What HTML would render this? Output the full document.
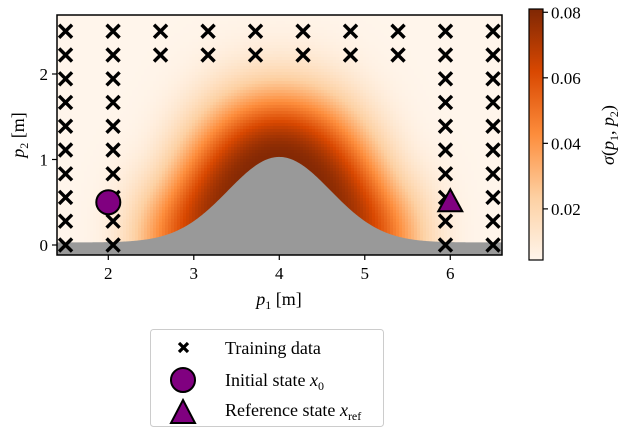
<!DOCTYPE html>
<html><head><meta charset="utf-8"><style>
body{margin:0;background:#fff;width:632px;height:436px;overflow:hidden;position:relative;font-family:"Liberation Serif",serif}
svg{position:absolute;left:0;top:0}
</style></head><body>
<svg id="chart" width="632" height="436">
<defs><linearGradient id="cbgrad" x1="0" y1="1" x2="0" y2="0">
<stop offset="0" stop-color="#fff5eb"/><stop offset="0.25" stop-color="#fdd0a2"/><stop offset="0.5" stop-color="#fd8d3c"/><stop offset="0.75" stop-color="#d94801"/><stop offset="1" stop-color="#7f2704"/>
</linearGradient></defs>
</svg>
<script>
var trainCols=[1.5,2.056,2.611,3.167,3.722,4.278,4.833,5.389,5.944,6.5];
var trainRows=[0,0.278,0.556,0.833,1.111,1.389,1.667,1.944,2.222,2.5];
var fullCols=[1.5,2.056,5.944,6.5];
var xTicks=[2,3,4,5,6];
var yTicks=[0,1,2];
var cbTicks=[0.02,0.04,0.06,0.08];
var initialState=[2,0.5];
var referenceState=[6,0.5];
var obstacleCenter=4, obstacleHeight=1, obstacleWidth=0.6, obstacleBase=0.03;
var sigmaMax=0.08;

(function(){
var L=57,R=502,T=15,B=255;
var xmin=1.4,xmax=6.605,ymin=-0.117,ymax=2.69;
function sx(v){return L+(v-xmin)/(xmax-xmin)*(R-L);}
function sy(v){return B-(v-ymin)/(ymax-ymin)*(B-T);}
var cbT=9,cbB=260,cbMin=0.0044,cbMax=0.081;
function cby(v){return cbB-(v-cbMin)/(cbMax-cbMin)*(cbB-cbT);}
var svg=document.getElementById('chart');var NS='http://www.w3.org/2000/svg';
function mk(tag,attrs,parent){var e=document.createElementNS(NS,tag);for(var k in attrs){e.setAttribute(k,attrs[k]);}(parent||svg).appendChild(e);return e;}
function inArr(a,v){for(var i=0;i<a.length;i++){if(a[i]===v)return true;}return false;}

var pts=[];
for(var i=0;i<trainCols.length;i++){for(var j=0;j<trainRows.length;j++){
  if(inArr(fullCols,trainCols[i])||trainRows[j]>2.1)pts.push([trainCols[i],trainRows[j]]);}}
function obst(x){var u=x-obstacleCenter;return obstacleBase+obstacleHeight*Math.exp(-u*u/(2*obstacleWidth*obstacleWidth));}
var curve=[];for(var cx0=xmin-1;cx0<=xmax+1;cx0+=0.04){curve.push([cx0,obst(cx0)]);}
var stops=[[0,[255,245,235]],[0.25,[253,208,162]],[0.5,[253,141,60]],[0.75,[217,72,1]],[1,[127,39,4]]];
function cmap(t){t=Math.max(0,Math.min(1,t));for(var i=1;i<stops.length;i++){if(t<=stops[i][0]){var a=stops[i-1],b=stops[i];var f=(t-a[0])/(b[0]-a[0]);
  return [Math.round(a[1][0]+(b[1][0]-a[1][0])*f),Math.round(a[1][1]+(b[1][1]-a[1][1])*f),Math.round(a[1][2]+(b[1][2]-a[1][2])*f)];}}return stops[4][1];}
function sigma(x,y){
  var dm=1e9;
  if(y>obst(x)){for(var i=0;i<curve.length;i++){var dx=curve[i][0]-x,dy=curve[i][1]-y;var q=dx*dx+dy*dy;if(q<dm)dm=q;}}else dm=0;
  var u=(x-obstacleCenter)/1.55;
  var e=u*u*u*u+dm/(0.78*0.78);return cbMin+(sigmaMax-cbMin)*Math.exp(-e);}

var hg=mk('g',{'shape-rendering':'crispEdges'});


var cs=3;
for(var py=T;py<B;py+=cs){for(var px=L;px<R;px+=cs){
  var w=Math.min(cs,R-px),h=Math.min(cs,B-py);
  var x=xmin+(px+w/2-L)/(R-L)*(xmax-xmin), y=ymax-(py+h/2-T)/(B-T)*(ymax-ymin);
  var c=cmap((sigma(x,y)-cbMin)/(cbMax-cbMin));
  mk('rect',{x:px,y:py,width:w+0.5,height:h+0.5,fill:'rgb('+c[0]+','+c[1]+','+c[2]+')'},hg);
}}
var d='M'+L+','+B;
for(var px2=L;px2<=R;px2++){var xx=xmin+(px2-L)/(R-L)*(xmax-xmin);d+=' L'+px2+','+sy(obst(xx)).toFixed(2);}
d+=' L'+R+','+B+' Z';
var ob=mk('path',{d:d,fill:'#999'});


var tg=mk('g',{stroke:'#000','stroke-width':3.4});


for(var n=0;n<pts.length;n++){var X=sx(pts[n][0]),Y=sy(pts[n][1]);
  var m=mk('path',{d:'M'+(X-6.5)+','+(Y-6.5)+'L'+(X+6.5)+','+(Y+6.5)+'M'+(X-6.5)+','+(Y+6.5)+'L'+(X+6.5)+','+(Y-6.5)},tg);
  
  }
var ci=mk('circle',{cx:sx(initialState[0]),cy:sy(initialState[1]),r:12,fill:'#800080',stroke:'#000','stroke-width':2});


var rx=sx(referenceState[0]),ry=sy(referenceState[1]);
var tr=mk('path',{d:'M'+rx+','+(ry-13)+'L'+(rx+12)+','+(ry+9)+'L'+(rx-12)+','+(ry+9)+'Z',fill:'#800080',stroke:'#000','stroke-width':2});


var fr=mk('rect',{x:L,y:T,width:R-L,height:B-T,fill:'none',stroke:'#000','stroke-width':1.5});


for(var a=0;a<xTicks.length;a++){var tx=sx(xTicks[a]);mk('line',{x1:tx,x2:tx,y1:B,y2:B+5,stroke:'#000','stroke-width':1.2});
  var t1=mk('text',{x:tx,y:B+24,'text-anchor':'middle','font-size':17});t1.textContent=String(xTicks[a]);
  
  }
for(var b=0;b<yTicks.length;b++){var ty=sy(yTicks[b]);mk('line',{x1:L-5,x2:L,y1:ty,y2:ty,stroke:'#000','stroke-width':1.2});
  var t2=mk('text',{x:L-9,y:ty+6,'text-anchor':'end','font-size':17});t2.textContent=String(yTicks[b]);
  
  }
var cbf=mk('rect',{x:529,y:cbT,width:14,height:cbB-cbT,fill:'url(#cbgrad)',stroke:'#000','stroke-width':1.2});


for(var k2=0;k2<cbTicks.length;k2++){var cyy=cby(cbTicks[k2]);mk('line',{x1:543,x2:548,y1:cyy,y2:cyy,stroke:'#000','stroke-width':1.2});
  var t3=mk('text',{x:551,y:cyy+6,'font-size':17});t3.textContent=cbTicks[k2].toFixed(2);
  
  }
})();
</script>
<svg width="632" height="436" style="pointer-events:none">
<text x="279" y="305" text-anchor="middle" font-size="18"><tspan font-style="italic">p</tspan><tspan font-size="12" dy="4">1</tspan><tspan dy="-4"> [m]</tspan></text>
<text transform="translate(24,135) rotate(-90)" text-anchor="middle" font-size="18"><tspan font-style="italic">p</tspan><tspan font-size="12" dy="4">2</tspan><tspan dy="-4"> [m]</tspan></text>
<text transform="translate(614,135) rotate(-90)" text-anchor="middle" font-size="18"><tspan font-style="italic">σ</tspan>(<tspan font-style="italic">p</tspan><tspan font-size="12" dy="4">1</tspan><tspan dy="-4">, </tspan><tspan font-style="italic">p</tspan><tspan font-size="12" dy="4">2</tspan><tspan dy="-4">)</tspan></text>
<g>
<rect x="150.5" y="329.5" width="233" height="97" rx="3" fill="#fff" stroke="#ccc"/>
<path d="M179,343L188,352M179,352L188,343" stroke="#000" stroke-width="3.2"/>
<circle cx="183" cy="380" r="12" fill="#800080" stroke="#000" stroke-width="2"/>
<path d="M183,400L195,423L171,423Z" fill="#800080" stroke="#000" stroke-width="2"/>
<text x="225" y="354" font-size="18">Training data</text>
<text x="225" y="386" font-size="18">Initial state <tspan font-style="italic">x</tspan><tspan font-size="12" dy="4">0</tspan></text>
<text x="225" y="416" font-size="18">Reference state <tspan font-style="italic">x</tspan><tspan font-size="12" dy="4">ref</tspan></text>
</g>
</svg>
</body></html>
